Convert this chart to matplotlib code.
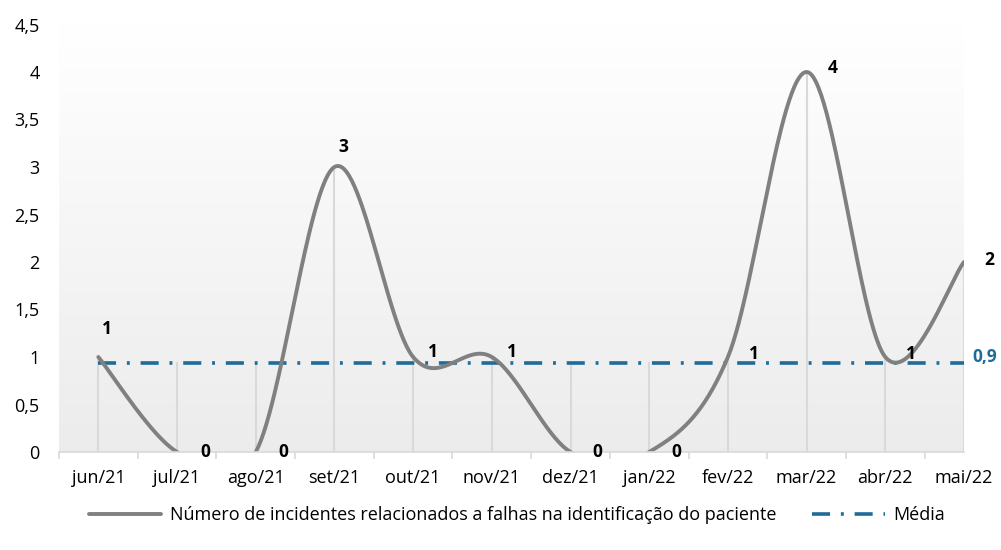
import matplotlib
matplotlib.use("Agg")
import matplotlib.pyplot as plt
import numpy as np

meses = ["jun/21", "jul/21", "ago/21", "set/21", "out/21", "nov/21",
         "dez/21", "jan/22", "fev/22", "mar/22", "abr/22", "mai/22"]
incidentes = [1, 0, 0, 3, 1, 1, 0, 0, 1, 4, 1, 2]
media = 0.94
yticks = [0, 0.5, 1, 1.5, 2, 2.5, 3, 3.5, 4, 4.5]

# label offsets in pixels (dx, dy), placed by hand like in the original
label_off = [(9, 28), (28, 0), (28, 0), (9, 20), (20, 5), (20, 5),
             (27, 0), (27, 0), (26, 3), (26, 4), (26, 3), (25, 2)]

plt.rcParams['font.family'] = ['Open Sans', 'DejaVu Sans']

GRAY = "#808080"
BLUE = "#1f6b9a"
LIGHT = "#d9d9d9"


def smooth(xs, ys, n=60):
    # bezier through the points, control points like excel smoothed lines
    pts = np.column_stack([xs, ys]).astype(float)
    out = []
    for i in range(len(pts) - 1):
        p0 = pts[i - 1] if i > 0 else pts[i]
        p1 = pts[i]
        p2 = pts[i + 1]
        p3 = pts[i + 2] if i + 2 < len(pts) else pts[i + 1]
        c1 = p1 + (p2 - p0) / 6.0
        c2 = p2 - (p3 - p1) / 6.0
        t = np.linspace(0, 1, n)[:, None]
        seg = ((1 - t) ** 3) * p1 + 3 * ((1 - t) ** 2) * t * c1 + 3 * (1 - t) * t ** 2 * c2 + t ** 3 * p2
        out.append(seg if i == 0 else seg[1:])
    seg = np.vstack(out)
    return seg[:, 0], seg[:, 1]


fig = plt.figure(figsize=(10.01, 5.5), dpi=100)
ax = fig.add_axes([59 / 1001, 98 / 550, 905 / 1001, 427.5 / 550])

x = np.arange(len(meses))

# gradient background of the plot area (white on top, light gray at bottom)
grad = np.linspace(0, 1, 256)[:, None]
top = np.array([1.0, 1.0, 1.0])
bot = np.array([0.925, 0.925, 0.925])
img = top * grad[..., None] + bot * (1 - grad[..., None])
ax.imshow(img, extent=[-0.5, len(meses) - 1, 0, 4.5], origin='lower', aspect='auto', zorder=0)
ax.set_xlim(-0.5, len(meses) - 1)
ax.set_ylim(0, 4.5)

# drop lines
for xi, v in zip(x, incidentes):
    ax.plot([xi, xi], [0, max(v, media)], color=LIGHT, lw=1.5, zorder=1)

sx, sy = smooth(x, incidentes)
ax.plot(sx, sy, color=GRAY, lw=2.8, zorder=3, solid_capstyle='round',
        label="Número de incidentes relacionados a falhas na identificação do paciente")
ax.plot(x, [media] * len(x), color=BLUE, lw=2.6, dashes=(5, 3, 0.8, 3), zorder=2,
        label="Média")

for xi, v, (dx, dy) in zip(x, incidentes, label_off):
    ax.annotate(str(v), (xi, v), xytext=(dx * 0.72, dy * 0.72), textcoords='offset points',
                ha='center', va='center', fontsize=12.5, fontweight='bold', color='black',
                annotation_clip=False, zorder=5)

ax.annotate(f"{media:.1f}".replace(".", ","), (x[-1], media), xytext=(6, 4),
            textcoords='offset points', ha='left', va='center', fontsize=12.5,
            fontweight='bold', color=BLUE, annotation_clip=False)

ax.set_yticks(yticks)
ax.set_yticklabels([f"{t:g}".replace(".", ",") for t in yticks], fontsize=13)
ax.tick_params(axis='y', length=0, pad=14)
ax.set_xticks(x)
ax.set_xticklabels(meses, fontsize=13)
ax.set_xticks(np.arange(-0.5, len(meses) - 1, 1), minor=True)
ax.tick_params(axis='x', which='major', length=0, pad=12)
ax.tick_params(axis='x', which='minor', length=5, color=LIGHT, width=1.2)

for s in ['top', 'left', 'right']:
    ax.spines[s].set_visible(False)
ax.spines['bottom'].set_color(LIGHT)
ax.spines['bottom'].set_linewidth(1.2)
ax.spines['bottom'].set_zorder(4)

fig.legend(loc='center', bbox_to_anchor=(517 / 1001, 1 - 515 / 550), ncol=2,
           frameon=False, fontsize=13, handlelength=4.0, columnspacing=2.0,
           handletextpad=0.5)

fig.savefig("out.png", dpi=100)
